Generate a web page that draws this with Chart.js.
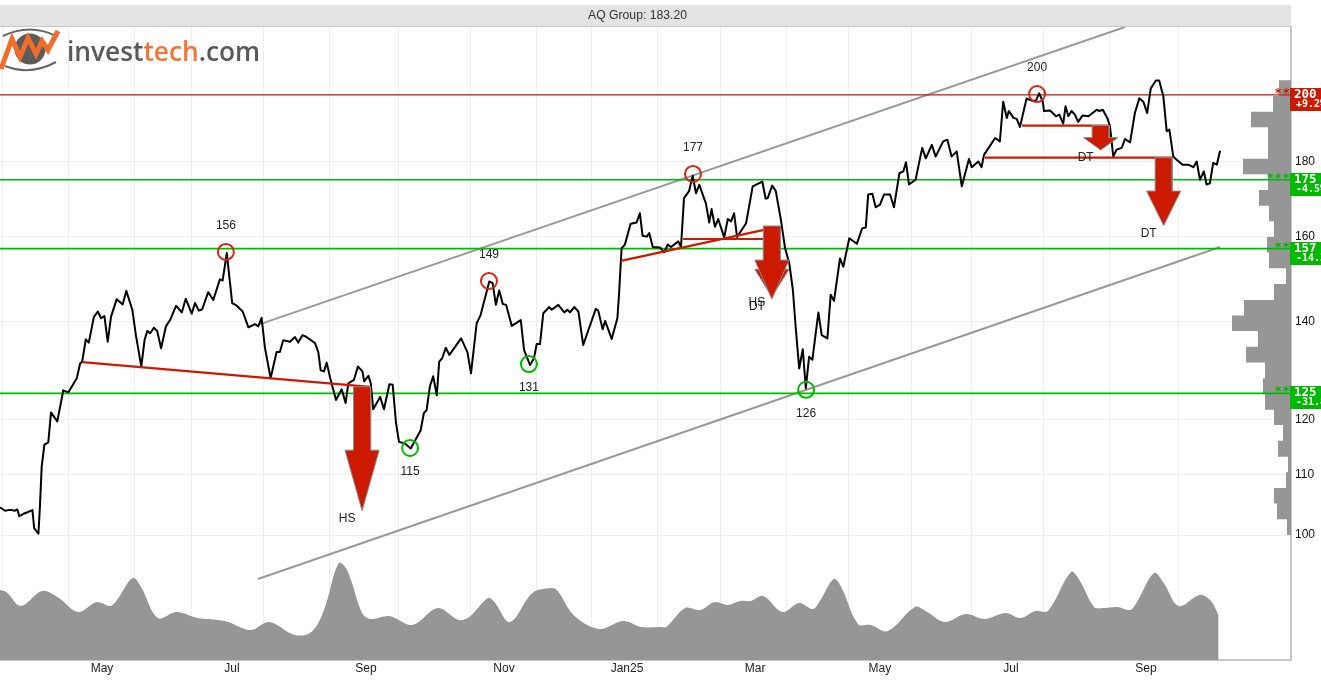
<!DOCTYPE html>
<html><head><meta charset="utf-8"><title>AQ Group</title>
<style>html,body{margin:0;padding:0;background:#fff;overflow:hidden}canvas{display:block}</style>
<script src="https://cdn.jsdelivr.net/npm/chart.js@4/dist/chart.umd.min.js"></script>
</head><body><canvas id="c" width="1321" height="680"></canvas>
<script>
const chartTitle = 'AQ Group: 183.20';
// Closing price path: session number and price
const priceSessions = [0,1.1,1.7,2.8,3.9,5,5.8,6.4,7.8,9.4,10.8,11.4,12.8,13.3,13.9,14.8,16.1,17,19.1,21.1,22.8,25.6,26.7,27.4,28.6,29.6,31.3,32.6,33.7,34.8,35.9,37,38.9,40.9,42.1,44.1,45.3,47.1,48.2,49.1,50,51.3,52.4,53.7,55.3,56.7,58.7,60.6,61.9,63.9,65,66.3,67.4,69.4,71.1,73.3,74.2,75.6,77.4,78.9,80.9,82.8,85,86.1,87.2,88.3,90.2,92.2,93.3,94.4,96.7,98.3,99.4,100.8,102.2,105,106.1,106.9,108,108.9,110,112,113.9,115.2,116.1,118,119.3,120.8,121.4,122.8,123.6,124.4,126.7,128,129.8,130.9,132,133,135,136.9,140.2,141.3,142.2,143.3,144.4,145.6,146.4,147.4,148.6,149.8,153.7,155.8,157,158.9,160.2,163.1,164.2,165.3,166.4,167.6,168.7,170.6,173.6,174.7,176.7,178,178.9,180,181.1,183.1,183.9,186.1,188.1,189.1,190,191.4,192.8,194.4,198.6,199.4,200.9,201.7,203.9,205.8,206.3,207.2,208.3,210.2,212.2,213.3,214.2,215.6,216.4,217.6,220,221.4,222.6,223.7,226.1,227,228,229.7,230.9,232,233.1,235.3,236.4,237.2,238.3,239.4,241.4,242.6,243.7,244.7,245.7,248.7,250.9,254.1,255.2,255.9,257.4,258.6,260.3,261.7,263.1,264.3,265.2,266.4,267.6,268.6,269.7,270.8,272.8,273.9,275.8,276.9,278,280,281.1,283.1,285.6,287.4,288.6,289.4,290.8,291.9,293.3,294.7,296.7,298,299.8,301.1,302,303,305.2,307.4,308.6,310.6,311.9,313.3,314.4,315.8,317.2,318.9,320.6,323,323.9,326.1,327.2,328,330,331.7,333.3,334.4,335.6,336.3,337.8,338.9,340,342.2,343.9,345.3,346.4,347.6,348,350,352,353.1,354.4,355.2,356.1,357.2,358.3,359.4,360.8,362.8,365.6,366.4,367.6,369.1,370,371.1,372.2,373.9,375,376.7,378.3,379.8,381.1,382.4,383.6,385.3,386.4,387.8,388.9,389.8,391.1,392.2,394.2,396.1,397.8,398.9,400,401.3,402.2,403.3,404.4,405.6,406.7];
const priceValues = [104.45,104.1,103.9,104,104,103.9,104.1,103,103.4,103.7,104,101.1,100.2,104.5,111.4,115.3,115.7,121.3,119.6,125.6,125.2,128,131,131.4,136.1,135.4,141,142.2,140.7,141.2,135.6,141,145,143.8,146.9,142.6,137,130.4,136,137.9,137.4,138.6,137.9,134.2,138.9,140.3,143.5,142,145.1,141.7,144.1,142.4,142.7,146.6,144.8,149.6,149.3,155.9,144.1,143.5,142.2,138.7,139.4,138.9,140.8,134.4,128,133.4,133.4,135.9,135.6,136.6,135.4,137,136.6,135.3,133.4,129.6,129.4,131.2,128.2,123.7,125.8,123.1,127,127.7,130.4,129.4,127.4,128.5,127,121.9,124.3,121.9,126.8,126.7,119.3,115.8,115.5,114.6,117.9,121.2,121.7,126.4,128.4,124.6,131.4,132.1,134.3,132.8,136.3,133.4,129,139.6,141.4,149.1,148.7,143.7,147,143.9,143.7,139,140.3,133.8,130.7,132.1,135.1,135.1,141.8,143.2,142.6,143.7,142,142.6,142,143.2,142.2,134.9,142.8,142.4,138.3,140.1,136.2,140.7,145.6,157.1,158,163.3,163.6,166,160.2,160,160.9,157.4,157.3,156.1,158,157.4,158.8,157.4,170,171.9,176.1,171.3,173.6,168.6,163.6,167.1,162.5,164.5,159.8,164.5,163.9,166,159.9,163.4,173.2,174.5,169.9,170,173.4,171.9,164.3,157.1,153.4,147.1,139,130,134,126,132.4,131.8,142,137,136.3,146,144.6,154.6,152.6,159.6,158.2,162.1,162.3,171,171.2,167.6,168.2,171,171,167.6,176.8,177.3,179.9,173.7,175,184,181,184.9,181.5,184,185.9,186.4,181.5,183,173.2,180.8,178.5,180.1,178.5,182,184.6,186.9,185.9,197.9,192.9,195,192.9,192.6,190.2,198.9,198.2,198.2,200.5,197.9,195,195.2,193.4,193.9,191.2,196.5,193.4,195,193.9,191.7,193.6,193.4,195.4,195,195.4,192.9,190.3,181.5,183.5,184,186.6,185.6,194.4,199,197.9,194.4,202.1,204.6,204.6,199.5,188.9,189.4,181.5,180.6,179.2,179.2,178.5,180.1,175,177.3,173.7,174,179.7,179.2,183.2];
// Volume panel
const volumeSessions = [0,2.1,7,14,19.6,26,32.3,36.8,39,44.2,47,52.6,58.9,65.9,75,83.5,89.8,98.2,103.8,108,112.9,115.7,120.7,123.5,129.8,137.5,145.9,152.9,156.4,162.7,164.8,170,177.5,183.8,185.9,191.5,199.9,207.6,213.9,220,222.1,228.4,233.4,238.3,242.5,246.7,250.2,254.4,260.8,266.4,270.9,273.1,277.9,280.4,286,290.3,295.9,305,308.5,314.9,321.9,328.2,335.2,340.2,345.1,349.3,357,359.8,364.7,367.6,372.5,376.7,378.8,384.7,387.9,392.9,399.9,403.4,406.2];
const volumeValues = [70,68,54,69,62,48,58,54,60,82,73,42,48,42,39,30,38,25,28,50,97,90,47,41,44,35,52,40,43,62,58,38,67,72,69,44,31,39,33,33,33,52,50,58,55,59,59,64,48,57,51,58,81,73,36,35,29,53,49,38,46,41,47,42,49,49,88,80,53,52,53,50,57,87,77,54,65,60,45];
// Volume-by-price histogram: bin edges (price) and bin volume
const histEdges = [100,102.5,105.1,107.7,110.4,113.1,116,118.9,121.8,124.9,128,131.2,134.5,137.9,141.3,144.8,148.5,152.2,156,159.9,163.9,168,172.2,176.5,180.9,185.4,190.1,194.8,199.7,204.7];
const histVolumes = [4,14,17,5,3,13,8,17,26,28,26,45,33,59,47,17,5,22,24,17,22,32,23,48,23,23,40,18,12];
// Support / resistance levels
const levelPrices = [200,175,157,125];
const levelChanges = ['+9.2%','-4.5%','-14.3%','-31.8%'];
const levelStars = ['**','***','**','**'];
const levelColors = ['#cc1a00','#00b900','#00b900','#00b900'];
// Tops and bottoms
const topSessions = [75.3,163,231,345.7];
const topPrices = [156.2,149.2,176.6,200.3];
const bottomSessions = [136.7,176.3,268.7];
const bottomPrices = [114.7,130.9,125.7];
// Channel
const upperChannelSessions = [86.7,375];
const upperChannelPrices = [139.4,222.6];
const lowerChannelSessions = [86,406.7];
const lowerChannelPrices = [93.3,157.4];
// Pattern necklines (session start, session end, price start, price end)
const necklineStartSessions = [27.4,207,227.7,340.7,328.3];
const necklineEndSessions = [123.3,254.7,254.7,369.7,390.7];
const necklineStartPrices = [131.3,154,159.4,190.6,181.2];
const necklineEndPrices = [126.3,161.7,159.4,190.6,181.2];
// Target arrows
const arrowCenters = [120.7,257.3,257.3,366.9,387.9];
const arrowTops = [126.3,162.7,159.4,190.6,181.2];
const arrowNecks = [114.3,154.2,152,187,171.9];
const arrowTips = [103.9,145,145.5,183.4,162.8];
const arrowLabels = ['HS','HS','DT','DT','DT'];
// Axis
const monthStarts = [1,23,45,63.7,87.7,109.7,132.7,156.7,178.7,197.3,219.3,240.3,262.3,283,304,323.7,347.7,370,392.7];
const monthLabelSessions = [34,77.3,122,168,209,251.7,293.3,337,382];
const monthLabels = ['May','Jul','Sep','Nov','Jan25','Mar','May','Jul','Sep'];
const priceTicks = [100,110,120,140,160,180,200];

const SANS = '"Liberation Sans", Arial, sans-serif';
const MONO = '"DejaVu Sans Mono", monospace';
const zip = (xs, ys) => xs.map((x, i) => ({x, y: ys[i]}));
const segment = (x0, x1, y0, y1, color, width, order) => ({
  type: 'line', data: [{x: x0, y: y0}, {x: x1, y: y1}], borderColor: color, borderWidth: width,
  pointRadius: 0, fill: false, order, xAxisID: 'x', yAxisID: 'y'
});
const arrowSets = arrowCenters.map((c, i) => {
  const s = 2.85, h = 5.7, t = arrowTops[i], n = arrowNecks[i];
  return {type: 'line', xAxisID: 'x', yAxisID: 'y', order: 1, pointRadius: 0, borderColor: '#8a8a8a', borderWidth: 1,
    backgroundColor: '#cc1a00', fill: 'shape',
    data: [{x: c - s, y: t}, {x: c + s, y: t}, {x: c + s, y: n}, {x: c + h, y: n}, {x: c, y: arrowTips[i]}, {x: c - h, y: n}, {x: c - s, y: n}, {x: c - s, y: t}]};
});
const histPath = [{x: 0, y: histEdges[0]}];
histVolumes.forEach((v, i) => { histPath.push({x: v, y: histEdges[i]}, {x: v, y: histEdges[i + 1]}); });
histPath.push({x: 0, y: histEdges[histEdges.length - 1]});

const decorations = {
  id: 'decorations',
  beforeDraw(chart) {
    const c = chart.ctx;
    c.save();
    c.fillStyle = '#e3e3e3'; c.fillRect(0, 5, 1291, 21);
    c.fillStyle = '#c8c8c8'; c.fillRect(0, 26, 1292, 1);
    c.fillStyle = '#333'; c.font = '12.2px ' + SANS; c.textAlign = 'center'; c.textBaseline = 'middle';
    c.fillText(chartTitle, 637.5, 15.5);
    c.restore();
  },
  afterDraw(chart) {
    const c = chart.ctx, xs = chart.scales.x, ys = chart.scales.y;
    c.save();
    c.textBaseline = 'middle';
    // pattern labels
    c.textAlign = 'center'; c.fillStyle = '#222'; c.font = '12px ' + SANS;
    arrowLabels.forEach((t, i) => {
      const x = xs.getPixelForValue(arrowCenters[i]) - 15;
      const y = ys.getPixelForValue(arrowTips[i]) + (i === 1 ? 4 : i === 2 ? 10 : 8);
      c.fillText(t, x, y);
    });
    topSessions.forEach((s, i) => c.fillText(String(Math.round(topPrices[i])), xs.getPixelForValue(s), ys.getPixelForValue(topPrices[i]) - 26));
    bottomSessions.forEach((s, i) => c.fillText(String(Math.round(bottomPrices[i])), xs.getPixelForValue(s), ys.getPixelForValue(bottomPrices[i]) + 24));
    // level tags
    levelPrices.forEach((p, i) => {
      const y = Math.round(ys.getPixelForValue(p));
      c.fillStyle = levelColors[i]; c.fillRect(1290, y - 7, 31, 23);
      c.textAlign = 'right'; c.font = 'bold 13px ' + MONO; c.fillText(levelStars[i], 1290, y - 1);
      c.textAlign = 'left'; c.fillStyle = '#fff';
      c.font = 'bold 12.5px ' + MONO; c.fillText(String(p), 1294, y);
      c.font = 'bold 10px ' + MONO; c.fillText(levelChanges[i], 1296, y + 9);
    });
    // logo
    c.strokeStyle = '#666'; c.lineWidth = 2;
    c.beginPath(); c.moveTo(3, 36); c.quadraticCurveTo(30, 23, 56, 36); c.stroke();
    c.beginPath(); c.moveTo(5, 66); c.quadraticCurveTo(30, 76, 56, 62); c.stroke();
    c.fillStyle = '#5c5c5c'; c.beginPath(); c.arc(30, 49, 15.5, 0, Math.PI * 2); c.fill();
    c.strokeStyle = '#f26d2b'; c.lineWidth = 5; c.lineJoin = 'miter';
    c.beginPath(); c.moveTo(1, 69); c.lineTo(12, 39); c.lineTo(20, 57); c.lineTo(28, 38); c.lineTo(36, 54); c.lineTo(42, 41); c.lineTo(48, 50); c.lineTo(58, 31); c.stroke();
    c.textAlign = 'left'; c.textBaseline = 'alphabetic'; c.font = '600 26.3px "Open Sans", sans-serif';
    let x = 67;
    [['invest', '#595959'], ['tech', '#f0763a'], ['.com', '#595959']].forEach(([t, col]) => {
      c.fillStyle = col; c.fillText(t, x, 61); x += c.measureText(t).width;
    });
    c.restore();
  }
};

new Chart(document.getElementById('c'), {
  plugins: [decorations],
  data: {datasets: [
    {type: 'line', label: 'Price', data: zip(priceSessions, priceValues), borderColor: '#000', borderWidth: 2, pointRadius: 0, tension: 0, fill: false, order: 3, xAxisID: 'x', yAxisID: 'y', borderJoinStyle: 'round'},
    {type: 'line', label: 'Volume', data: zip(volumeSessions, volumeValues), borderColor: '#969696', borderWidth: 0, backgroundColor: '#969696', pointRadius: 0, tension: 0.35, fill: 'origin', order: 8, xAxisID: 'x', yAxisID: 'yVol'},
    {type: 'line', label: 'Volume by price', data: histPath, borderColor: '#969696', borderWidth: 0, backgroundColor: '#969696', pointRadius: 0, fill: 'shape', order: 7, xAxisID: 'xHist', yAxisID: 'y'},
    ...levelPrices.map((p, i) => segment(0, 430.34, p, p, levelColors[i], i === 0 ? 1.3 : 1.6, 5)),
    segment(upperChannelSessions[0], upperChannelSessions[1], upperChannelPrices[0], upperChannelPrices[1], '#999', 2, 6),
    segment(lowerChannelSessions[0], lowerChannelSessions[1], lowerChannelPrices[0], lowerChannelPrices[1], '#999', 2, 6),
    ...necklineStartSessions.map((s, i) => segment(s, necklineEndSessions[i], necklineStartPrices[i], necklineEndPrices[i], '#cc1a00', 2.2, 2)),
    ...arrowSets,
    {type: 'scatter', label: 'Tops', data: zip(topSessions, topPrices), pointStyle: 'circle', pointRadius: 8, pointBorderWidth: 2, pointBorderColor: '#cc2a14', pointBackgroundColor: 'rgba(0,0,0,0)', order: 0, xAxisID: 'x', yAxisID: 'y'},
    {type: 'scatter', label: 'Bottoms', data: zip(bottomSessions, bottomPrices), pointStyle: 'circle', pointRadius: 8, pointBorderWidth: 2, pointBorderColor: '#00b900', pointBackgroundColor: 'rgba(0,0,0,0)', order: 0, xAxisID: 'x', yAxisID: 'y'}
  ]},
  options: {
    responsive: false, animation: false, devicePixelRatio: 1,
    layout: {autoPadding: false, padding: {top: 27, left: 0, right: 0, bottom: 0}},
    plugins: {legend: {display: false}, tooltip: {enabled: false}, title: {display: false}},
    scales: {
      x: {type: 'linear', position: 'bottom', min: 0, max: 430.34,
        afterBuildTicks: a => { a.ticks = [...monthStarts, ...monthLabelSessions].sort((p, q) => p - q).map(value => ({value})); },
        afterFit: a => { a.height = 20; },
        grid: {drawTicks: false, color: ctx => (ctx.tick && monthLabelSessions.includes(ctx.tick.value)) ? 'rgba(0,0,0,0)' : '#eeeeee', lineWidth: 1},
        border: {color: '#c8c8c8', width: 2},
        ticks: {autoSkip: false, maxRotation: 0, padding: 1, color: '#222', font: {family: SANS, size: 12},
          callback: v => { const i = monthLabelSessions.indexOf(v); return i >= 0 ? monthLabels[i] : ''; }}},
      xHist: {type: 'linear', axis: 'x', display: false, reverse: true, min: 0, max: 1291},
      y: {type: 'logarithmic', position: 'right', min: 82.13, max: 222.6,
        afterBuildTicks: a => { a.ticks = priceTicks.map(value => ({value})); },
        afterFit: a => { a.width = 30; },
        grid: {drawTicks: false, color: '#eeeeee', lineWidth: 1},
        border: {color: '#c8c8c8', width: 2},
        ticks: {autoSkip: false, padding: 4, color: '#111', font: {family: SANS, size: 12},
          callback: v => v === 200 ? '' : String(v)}},
      yVol: {type: 'linear', axis: 'y', display: false, min: 0, max: 633}
    }
  }
});
</script></body></html>
